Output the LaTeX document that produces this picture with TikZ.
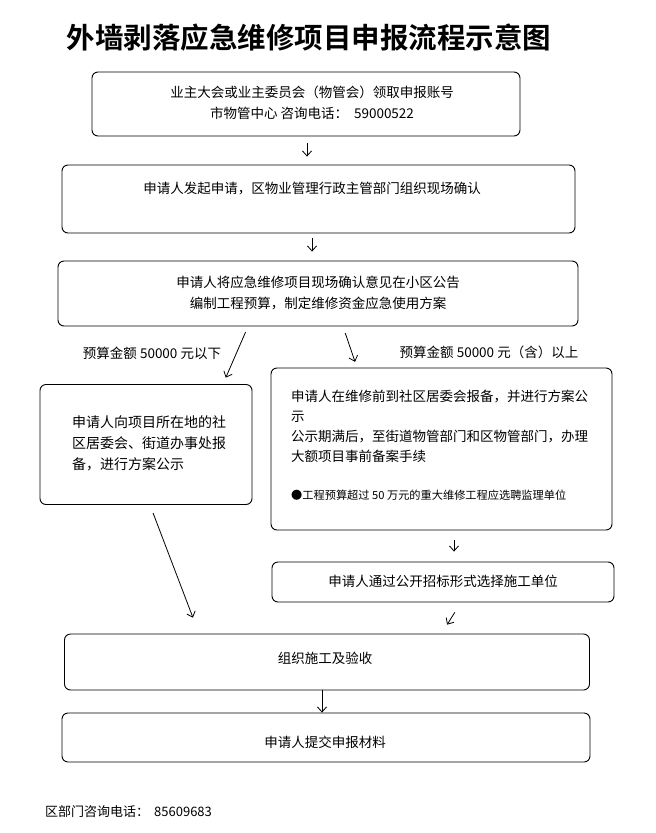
\documentclass[tikz,border=0pt]{standalone}
\usepackage{fontspec}
\setmainfont{Noto Sans CJK SC}[BoldFont={Noto Sans CJK SC Bold}]
\usetikzlibrary{arrows.meta}
\tikzset{
  box/.style={draw, rounded corners=6pt, line width=0.9pt, inner sep=0pt},
  txt/.style={inner sep=0pt, align=center, font=\fontsize{13.5}{21}\selectfont},
  arr/.style={-{Straight Barb[length=5pt,width=9pt]}, line width=0.8pt},
}

\begin{document}
\begin{tikzpicture}[x=1pt, y=-1pt]
  \useasboundingbox (0,0) rectangle (656,833);
  % 标题
  \node[inner sep=0pt, font=\fontsize{28.5}{30}\selectfont\bfseries] (title) at (309,38) {外墙剥落应急维修项目申报流程示意图};
  % 方框
  \node[box, minimum width=428pt, minimum height=64pt] (b1) at (306,104) {};
  \node[box, minimum width=513pt, minimum height=68pt] (b2) at (318.5,199) {};
  \node[box, minimum width=520pt, minimum height=65pt] (b3) at (318,293.5) {};
  \node[box, minimum width=212pt, minimum height=120pt] (bL) at (146,444.5) {};
  \node[box, minimum width=341pt, minimum height=162pt] (bR) at (441.5,449) {};
  \node[box, minimum width=342pt, minimum height=40pt] (bT) at (443,582) {};
  \node[box, minimum width=525pt, minimum height=56pt] (bZ) at (327,662) {};
  \node[box, minimum width=528pt, minimum height=49pt] (bS) at (326,737.5) {};
  % 文字
  \node[txt] (t1) at (312,102.5) {业主大会或业主委员会（物管会）领取申报账号\\市物管中心 咨询电话：\hspace{6pt}59000522};
  \node[txt] (t2) at (312,189) {申请人发起申请，区物业管理行政主管部门组织现场确认};
  \node[txt] (t3) at (318,293) {申请人将应急维修项目现场确认意见在小区公告\\编制工程预算，制定维修资金应急使用方案};
  \node[txt, anchor=west, align=left, font=\fontsize{14}{21}\selectfont] (tL) at (72,443)
    {申请人向项目所在地的社\\区居委会、街道办事处报\\备，进行方案公示};
  \node[txt, anchor=west, align=left, font=\fontsize{13.5}{20}\selectfont] (tR) at (291,426)
    {申请人在维修前到社区居委会报备，并进行方案公\\示\\公示期满后，至街道物管部门和区物管部门，办理\\大额项目事前备案手续};
  \node[txt, anchor=west, font=\fontsize{11.2}{13}\selectfont] (tB) at (291,495) {●工程预算超过 50 万元的重大维修工程应选聘监理单位};
  \node[txt] (tT) at (443,581) {申请人通过公开招标形式选择施工单位};
  \node[txt] (tZ) at (325,658) {组织施工及验收};
  \node[txt] (tS) at (325,742) {申请人提交申报材料};
  % 分支说明
  \node[txt] (lo) at (152,353) {预算金额 50000 元以下};
  \node[txt] (hi) at (489,352) {预算金额 50000 元（含）以上};
  \node[txt, anchor=west, font=\fontsize{13}{15}\selectfont] (tel) at (45,812) {区部门咨询电话：\hspace{5pt}85609683};
  % 箭头
  \draw[arr, shorten <=7pt, shorten >=8pt] (b1.south -| 307,0) -- (b2.north -| 307,0);
  \draw[arr, shorten <=5pt, shorten >=9pt] (b2.south -| 312,0) -- (b3.north -| 312,0);
  \draw[arr, shorten <=6pt, shorten >=7pt] (b3.south -| 248,0) -- (bL.north -| 223,0);
  \draw[arr, shorten <=7pt, shorten >=6pt] (b3.south -| 343,0) -- (bR.north -| 357,0);
  \draw[arr, shorten <=8.6pt, shorten >=17pt] (bL.south -| 150,0) -- (bZ.north -| 199,0);
  \draw[arr, shorten <=10pt, shorten >=10pt] (bR.south -| 454,0) -- (bT.north -| 454,0);
  \draw[arr, shorten <=11.7pt, shorten >=10.5pt] (bT.south -| 461,0) -- (bZ.north -| 441.5,0);
  \draw[arr] (bZ.south -| 322,0) -- (bS.north -| 322,0);
\end{tikzpicture}
\end{document}
